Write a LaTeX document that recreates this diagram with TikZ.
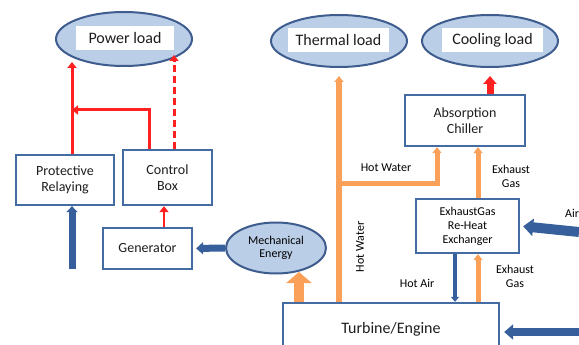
\documentclass[tikz,border=0pt]{standalone}
\usepackage{fontspec}
\setmainfont{Carlito}
\usetikzlibrary{arrows.meta,shapes.geometric}
\definecolor{boxblue}{RGB}{68,108,163}
\definecolor{ellblue}{RGB}{62,92,142}
\definecolor{ellfill}{RGB}{186,206,231}
\definecolor{arrblue}{RGB}{55,95,155}
\definecolor{heat}{RGB}{250,160,88}
\definecolor{power}{RGB}{255,32,32}
\definecolor{ink}{RGB}{30,30,30}

\begin{document}
\begin{tikzpicture}[x=1pt,y=-1pt,
  blk/.style={draw=boxblue,line width=2.3pt,fill=white,inner sep=0pt,align=center,
    text=ink,font=\fontsize{14}{16}\selectfont},
  load/.style={ellipse,draw=ellblue,line width=2pt,fill=ellfill,inner sep=0pt},
  loadtxt/.style={fill=white,inner sep=0pt,minimum height=24pt,text=ink,
    font=\fontsize{16}{18}\selectfont},
  lbl/.style={align=center,text=black,font=\fontsize{12}{14}\selectfont},
  redline/.style={draw=power,line width=3pt,-{Triangle[width=9pt,length=6pt]}},
  redthick/.style={draw=power,line width=7pt,-{Triangle[width=13pt,length=8pt]}},
  heatline/.style={draw=heat,line width=5pt,-{Triangle[width=9pt,length=6pt]}},
  heatthick/.style={draw=heat,line width=10pt,-{Triangle[width=25pt,length=11pt]}},
  blueline/.style={draw=arrblue,line width=4.5pt,-{Triangle[width=8pt,length=5pt]}},
  bluethick/.style={draw=arrblue,line width=8pt,-{Triangle[width=15pt,length=9pt]}}]
  \useasboundingbox (0,0) rectangle (579,345);

  \node[load,minimum width=136pt,minimum height=54pt] (powerload) at (124,39) {};
  \node[loadtxt,minimum width=98pt] (powerloadtxt) at (125,38.5) {Power load};
  \node[load,minimum width=136pt,minimum height=52pt] (thermal) at (339,41) {};
  \node[loadtxt,minimum width=101pt] (thermaltxt) at (338.5,40) {Thermal load};
  \node[load,minimum width=136pt,minimum height=52pt] (cooling) at (490,41) {};
  \node[loadtxt,minimum width=101pt] (coolingtxt) at (492.5,40) {Cooling load};

  \node[blk,minimum width=98pt,minimum height=50pt] (relaying) at (65,180) {Protective\\Relaying};
  \node[blk,minimum width=89pt,minimum height=55pt] (control) at (167.5,177.5) {Control\\Box};
  \node[blk,minimum width=89pt,minimum height=41pt] (generator) at (147.5,248.5) {Generator};
  \node[load,minimum width=100pt,minimum height=51pt,text=black,align=center,
    font=\fontsize{12}{13}\selectfont] (mech) at (276,248) {Mechanical\\Energy};
  \node[blk,minimum width=120pt,minimum height=51pt] (chiller) at (465,120.5) {Absorption\\Chiller};
  \node[blk,minimum width=103pt,minimum height=54pt,text=black,font=\fontsize{12}{14}\selectfont]
    (exchanger) at (467.5,226) {ExhaustGas\\Re-Heat\\Exchanger};
  \node[blk,minimum width=216pt,minimum height=52pt,font=\fontsize{16}{18}\selectfont]
    (turbine) at (391,329) {Turbine/Engine};

  \coordinate (relayin) at (72,269);
  \coordinate (pwrend) at (72,62);
  \coordinate (cbjoin) at (149,110);
  \coordinate (dashend) at (174,55);
  \coordinate (genup) at (164,0);
  \coordinate (mechin) at (299,272);
  \coordinate (hwturn) at (437,183);
  \coordinate (exgas) at (478,0);
  \coordinate (hotair) at (455,0);
  \coordinate (airin) at (579,232);
  \coordinate (fuelin) at (579,332);

  \draw[bluethick,line width=7pt,-{Triangle[width=11pt,length=6pt]}] (relayin) -- (relaying.south -| relayin);
  \draw[redline] (relaying.north -| pwrend) -- (pwrend);
  \draw[redline] (control.north -| cbjoin) -- (cbjoin) -- (cbjoin -| pwrend);
  \draw[redline,dash pattern=on 7pt off 4pt] (control.north -| dashend) -- (dashend);
  \draw[redline,line width=2pt] (generator.north -| genup) -- (control.south -| genup);
  \draw[bluethick,line width=7pt,-{Triangle[width=12pt,length=7pt]},shorten >=3pt] (mech.west) -- (generator.east);
  \draw[heatthick] (turbine.north -| mechin) -- (mechin);
  \draw[heatline,line width=6pt,shorten >=8pt] (turbine.north -| thermal.south) -- (thermal.south);
  \draw[heatline] (thermal.south |- hwturn) -- (hwturn) -- (chiller.south -| hwturn);
  \draw[redthick,shorten >=8pt] (chiller.north -| cooling.south) -- (cooling.south);
  \draw[heatline] (exchanger.north -| exgas) -- (chiller.south -| exgas);
  \draw[blueline] (exchanger.south -| hotair) -- (turbine.north -| hotair);
  \draw[heatline] (turbine.north -| exgas) -- (exchanger.south -| exgas);
  \draw[bluethick,line width=10pt,-{Triangle[width=17pt,length=10pt]},shorten >=3pt] (airin) -- (exchanger.east);
  \draw[bluethick,shorten >=4pt] (fuelin) -- (turbine.east |- fuelin);

  \node[lbl] (hwlabel) at (386,168) {Hot Water};
  \node[lbl] (exlabel) at (511,176) {Exhaust\\Gas};
  \node[lbl] (airlabel) at (572,213) {Air};
  \node[lbl,rotate=90] (hwlabelv) at (360,247) {Hot Water};
  \node[lbl] (halabel) at (417,283) {Hot Air};
  \node[lbl] (exlabel2) at (515,276) {Exhaust\\Gas};
\end{tikzpicture}
\end{document}
